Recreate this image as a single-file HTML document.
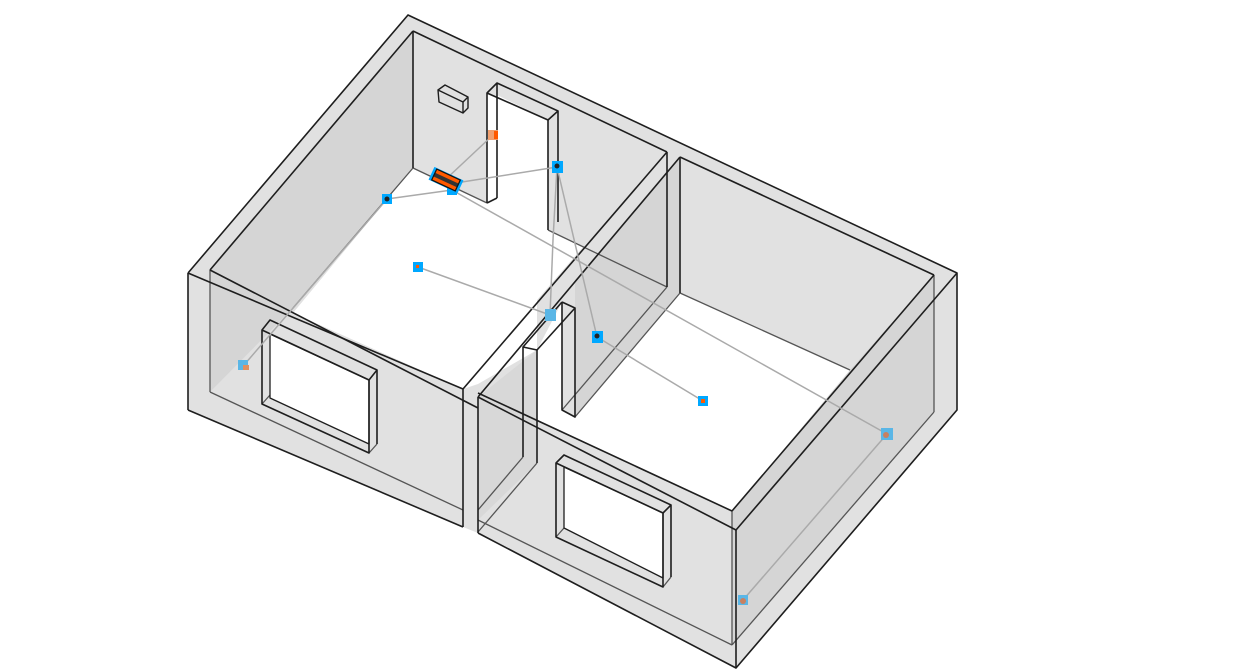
<!DOCTYPE html>
<html><head><meta charset="utf-8"><style>
html,body{margin:0;padding:0;background:#fff;}
svg{display:block}
</style></head><body>
<svg width="1253" height="672" viewBox="0 0 1253 672" xmlns="http://www.w3.org/2000/svg">
<polygon points="408,15 957,273 957,410 736,668 478,533 463,527 188,410 188,273" fill="#e1e1e1"/>
<polygon points="413,31 210,270 210,392 293,308 413,168" fill="#d5d5d5"/>
<polygon points="680,157 575,280 575,417 680,293" fill="#d5d5d5"/>
<polygon points="934,275 850,370 732,511 732,645 934,412" fill="#d5d5d5"/>
<polygon points="478,397 537,350 537,463 478,520" fill="#d8d8d8"/>
<polygon points="413,168 487,203 487,93 548,120 548,230 583,247 537,300 537,350 478,384 463,389 293,313" fill="#fff"/>
<polygon points="680,293 850,370 732,511 537,420 537,350 562,302 562,410 575,417" fill="#fff"/>
<polygon points="497,95 548,120 548,230 497,205" fill="#fff"/>
<polygon points="270,334 369,380 369,444 270,398" fill="#fff"/>
<polygon points="564,467 663,513 663,578 564,528" fill="#fff"/>

<g fill="none" stroke="#555" stroke-width="1.3">
<line x1="210" y1="270" x2="210" y2="392"/>
<line x1="210" y1="392" x2="463" y2="510"/>
<line x1="413" y1="168" x2="293" y2="308"/>
<line x1="413" y1="168" x2="487" y2="203"/>
<line x1="548" y1="230" x2="667" y2="287"/>
<line x1="667" y1="287" x2="562" y2="410"/>
<line x1="680" y1="293" x2="575" y2="417"/>
<line x1="680" y1="293" x2="850" y2="370"/>
<line x1="934" y1="412" x2="732" y2="645"/>
<line x1="478" y1="520" x2="732" y2="645"/>
<line x1="732" y1="511" x2="732" y2="645"/>
<line x1="934" y1="275" x2="934" y2="412"/>
<line x1="523" y1="457" x2="478" y2="510"/>
<line x1="537" y1="463" x2="478" y2="532"/>
<line x1="270" y1="395" x2="262" y2="404"/>
<line x1="377" y1="444" x2="369" y2="453"/>
<line x1="564" y1="528" x2="556" y2="537"/>
<line x1="671" y1="577" x2="663" y2="587"/>
</g>
<g fill="none" stroke="#1e1e1e" stroke-width="1.6" stroke-linejoin="round">
<polyline points="188,273 408,15 957,273 957,410 736,668 478,533"/>
<line x1="463" y1="527" x2="188" y2="410"/>
<line x1="188" y1="273" x2="188" y2="410"/>
<line x1="188" y1="273" x2="463" y2="389"/>
<line x1="463" y1="389" x2="463" y2="527"/>
<line x1="478" y1="397" x2="478" y2="533"/>
<line x1="478" y1="397" x2="736" y2="530"/>
<line x1="736" y1="530" x2="736" y2="668"/>
<line x1="736" y1="530" x2="957" y2="273"/>
<line x1="413" y1="31" x2="210" y2="270"/>
<line x1="210" y1="270" x2="478" y2="408"/>
<line x1="478" y1="393" x2="732" y2="511"/>
<line x1="732" y1="511" x2="934" y2="275"/>
<line x1="413" y1="31" x2="667" y2="152"/>
<line x1="680" y1="157" x2="934" y2="275"/>
<line x1="413" y1="31" x2="413" y2="168"/>
<line x1="667" y1="152" x2="463" y2="389"/>
<line x1="680" y1="157" x2="478" y2="397"/>
<line x1="667" y1="152" x2="667" y2="287"/>
<line x1="680" y1="157" x2="680" y2="293"/>
<polyline points="487,203 487,93 548,120 548,230"/>
<polyline points="497,198 497,83 558,111 558,222"/>
<line x1="487" y1="93" x2="497" y2="83"/>
<line x1="548" y1="120" x2="558" y2="111"/>
<line x1="487" y1="203" x2="497" y2="198"/>
<polyline points="523,457 523,347 537,350 537,463"/>
<line x1="523" y1="347" x2="562" y2="302"/>
<line x1="537" y1="350" x2="575" y2="308"/>
<polyline points="562,302 562,410 575,417 575,308 562,302"/>
<polygon points="262,330 369,380 369,453 262,404"/>
<polyline points="262,330 270,320 377,370 377,444"/>
<line x1="369" y1="380" x2="377" y2="370"/>
<polygon points="270,334 369,380 369,444 270,398" stroke-width="1.3"/>
<polygon points="556,463 663,513 663,587 556,537"/>
<polyline points="556,463 564,455 671,505 671,577"/>
<line x1="663" y1="513" x2="671" y2="505"/>
<polygon points="564,467 663,513 663,578 564,528" stroke-width="1.3"/>
<polygon points="438,90 463,102 463,113 439,102" stroke-width="1.4"/>
<polyline points="438,90 445,85 468,97 468,108 463,113" stroke-width="1.4"/>
<line x1="463" y1="102" x2="468" y2="97" stroke-width="1.4"/>
</g>
<g stroke="#aaa" stroke-width="1.5" fill="none">
<line x1="445" y1="180" x2="493" y2="135"/>
<line x1="462" y1="182" x2="557" y2="167"/>
<line x1="452" y1="190" x2="387" y2="199"/>
<line x1="387" y1="199" x2="244" y2="365"/>
<line x1="452" y1="190" x2="887" y2="434"/>
<line x1="557" y1="167" x2="553" y2="240"/>
<line x1="553" y1="240" x2="550" y2="315"/>
<line x1="557" y1="167" x2="597" y2="337"/>
<line x1="418" y1="267" x2="550" y2="315"/>
<line x1="597" y1="337" x2="703" y2="401"/>
<line x1="887" y1="434" x2="743" y2="600"/>
</g>
<g>
<rect x="488" y="130" width="10" height="10" fill="#f0a070"/><rect x="494" y="131" width="4" height="8" fill="#ff5a00"/>
<rect x="382" y="194" width="10" height="10" fill="#00a8ff"/><circle cx="387" cy="199" r="2.5" fill="#222"/>
<rect x="447" y="186" width="10" height="9" fill="#00a8ff"/>
<rect x="552" y="161" width="11" height="12" fill="#00a8ff"/><circle cx="557" cy="166" r="2.5" fill="#222"/>
<rect x="413" y="262" width="10" height="10" fill="#00a8ff"/><rect x="416" y="265" width="3" height="3" fill="#ff5a00"/>
<rect x="545" y="309" width="11" height="12" fill="#5ab6e6"/>
<rect x="592" y="331" width="11" height="12" fill="#00a8ff"/><circle cx="597" cy="336" r="2.5" fill="#222"/>
<rect x="698" y="396" width="10" height="10" fill="#00a8ff"/><rect x="701" y="399" width="4" height="4" fill="#ff5a00"/>
<rect x="238" y="360" width="10" height="10" fill="#5ab6e6"/><rect x="243" y="365" width="6" height="5" fill="#e09060"/>
<rect x="881" y="428" width="12" height="12" fill="#5ab6e6"/><circle cx="886" cy="435" r="3" fill="#c88060"/>
<rect x="738" y="595" width="10" height="10" fill="#5ab6e6"/><circle cx="743" cy="601" r="3" fill="#c88060"/>
<g transform="translate(446,180) rotate(25)">
<rect x="-16" y="-7" width="32" height="14" fill="#00a8ff"/>
<rect x="-13" y="-6" width="26" height="12" fill="#ff5a00"/>
<rect x="-13" y="-2" width="26" height="4" fill="#333"/>
<rect x="-13" y="-6" width="26" height="12" fill="none" stroke="#111" stroke-width="1.2"/>
</g>
</g>
</svg>
</body></html>
